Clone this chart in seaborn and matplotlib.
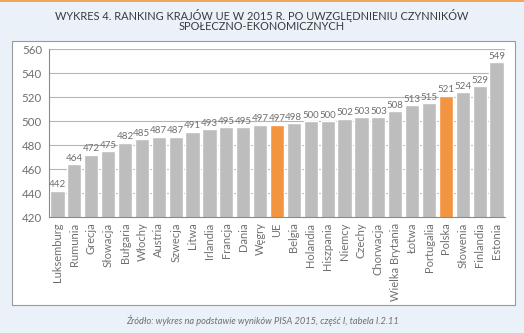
import matplotlib
matplotlib.use("Agg")
import matplotlib.pyplot as plt
import seaborn as sns
import pandas as pd
from matplotlib.patches import Rectangle

countries = ["Luksemburg", "Rumunia", "Grecja", "Słowacja", "Bułgaria", "Włochy",
             "Austria", "Szwecja", "Litwa", "Irlandia", "Francja", "Dania", "Węgry",
             "UE", "Belgia", "Holandia", "Hiszpania", "Niemcy", "Czechy", "Chorwacja",
             "Wielka Brytania", "Łotwa", "Portugalia", "Polska", "Słowenia",
             "Finlandia", "Estonia"]
scores = [442, 464, 472, 475, 482, 485, 487, 487, 491, 493, 495, 495, 497,
          497, 498, 500, 500, 502, 503, 503, 508, 513, 515, 521, 524, 529, 549]
highlighted = ["UE", "Polska"]
y_ticks = [420, 440, 460, 480, 500, 520, 540, 560]

title_lines = ["WYKRES 4. RANKING KRAJÓW UE W 2015 R. PO UWZGLĘDNIENIU CZYNNIKÓW",
               "SPOŁECZNO-EKONOMICZNYCH"]
source = "Źródło: wykres na podstawie wyników PISA 2015, część I, tabela I.2.11"

sns.set_style("white")
plt.rcParams["font.family"] = ["Lato", "DejaVu Sans"]

BG = "#eaf1f9"
GRAY = "#bdbdbd"
ORANGE = "#f39440"
TXT = "#6f6f6f"

df = pd.DataFrame({"kraj": countries, "wynik": scores})
palette = {c: (ORANGE if c in highlighted else GRAY) for c in countries}

fig = plt.figure(figsize=(5.24, 3.33), dpi=100, facecolor=BG)

# top accent line
fig.add_artist(Rectangle((0, 1 - 2 / 333), 1, 2 / 333, transform=fig.transFigure,
                         facecolor="#f2a65a", edgecolor="none"))
# white chart panel
fig.add_artist(Rectangle((12 / 524, 1 - 305 / 333), 503 / 524, 264 / 333,
                         transform=fig.transFigure, facecolor="white",
                         edgecolor="#9a9a9a", linewidth=0.8, zorder=0))

ax = fig.add_axes([49 / 524, 1 - 217 / 333, 456 / 524, 168 / 333])
ax.set_facecolor("none")

sns.barplot(data=df, x="kraj", y="wynik", hue="kraj", palette=palette,
            legend=False, width=0.84, ax=ax, zorder=2, saturation=1)

ax.set_ylim(420, 560)
ax.set_xlim(-0.5, len(countries) - 0.5)
ax.set_yticks(y_ticks)
ax.yaxis.grid(True, color="#b5b5b5", linewidth=0.8, zorder=1)
ax.set_axisbelow(True)
ax.set_xlabel("")
ax.set_ylabel("")

for s in ["top", "right"]:
    ax.spines[s].set_visible(False)
for s in ["left", "bottom"]:
    ax.spines[s].set_color("#8a8a8a")
    ax.spines[s].set_linewidth(0.8)

ax.tick_params(axis="y", length=3, color="#8a8a8a", labelsize=8.3, labelcolor=TXT, pad=2)
ax.set_xticks(range(len(countries)))
ax.set_xticklabels(countries, rotation=90, fontsize=8, color=TXT)
ax.tick_params(axis="x", which="major", length=0, pad=4)
ax.set_xticks([i - 0.5 for i in range(len(countries) + 1)], minor=True)
ax.tick_params(axis="x", which="minor", length=3, color="#8a8a8a")

for i, v in enumerate(scores):
    ax.text(i, v + 1.2, f"{v}", ha="center", va="bottom", fontsize=7, color=TXT)

# two-line heading
for line, y_px in zip(title_lines, [15, 26.5]):
    fig.text(0.5, 1 - y_px / 333, line, ha="center", va="center", fontsize=7.9,
             color="#3a3a3a")
fig.text(0.5, 1 - 320 / 333, source, ha="center", va="center", fontsize=6.7,
         color=TXT, style="italic")

fig.savefig("out.png", dpi=100, facecolor=BG)
